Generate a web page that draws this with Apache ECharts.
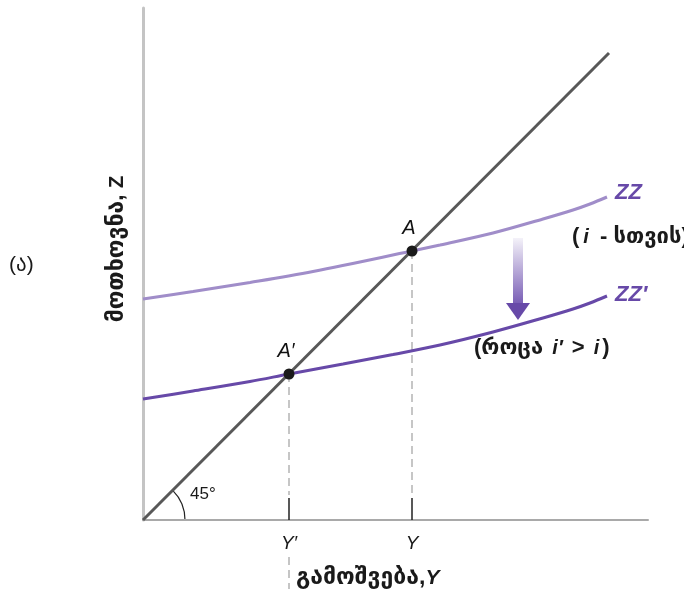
<!DOCTYPE html>
<html>
<head>
<meta charset="utf-8">
<script src="https://cdn.jsdelivr.net/npm/echarts@6/dist/echarts.min.js"></script>
<style>
  html, body { margin: 0; padding: 0; background: #fff; }
  #chart { width: 684px; height: 589px; }
</style>
</head>
<body>
<div id="chart"></div>
<script>
// Output Y on the horizontal axis, demand Z on the vertical axis (plot units)
const diagonalX = [0, 466];
const diagonalY = [0, 467];

// Demand curve ZZ (for interest rate i)
const zzX = [0, 50, 107, 170, 269, 297, 350, 400, 430, 447, 464];
const zzY = [221, 228.5, 237.5, 248.5, 269, 275, 287, 301, 310, 316, 323];

// Demand curve ZZ' (for the higher rate i')
const zzPrimeX = [0, 50, 107, 146, 200, 250, 297, 350, 400, 430, 447, 464];
const zzPrimeY = [121, 129, 138.5, 146, 156, 165.5, 175, 188, 202, 211, 217, 224];

// Equilibrium points
const pointA = [269, 269];
const pointAPrime = [146, 146];

// Ticks on the output axis
const xTickValues = [146, 269];
const xTickLabels = ['Y′', 'Y'];

const latinFamily = "'Liberation Sans', 'DejaVu Sans', sans-serif";
const purpleLight = '#a08dc9';
const purpleDark = '#6749a8';
const ink = '#1a1a1a';

const pairs = (xs, ys) => xs.map((x, i) => [x, ys[i]]);
const font = (spec) => spec + ' ' + latinFamily;

const chart = echarts.init(document.getElementById('chart'), null, { renderer: 'canvas' });

chart.setOption({
  animation: false,
  backgroundColor: '#fff',
  grid: { left: 143, right: 36, top: 8, bottom: 69, containLabel: false },
  xAxis: {
    type: 'value', min: 0, max: 505,
    splitLine: { show: false },
    axisLine: { show: true, lineStyle: { color: '#a9a9a9', width: 2 } },
    axisTick: {
      show: true, inside: true, length: 22,
      customValues: xTickValues,
      lineStyle: { color: '#222', width: 1.5 }
    },
    axisLabel: {
      show: true, margin: 14,
      customValues: xTickValues,
      formatter: v => xTickLabels[xTickValues.indexOf(v)] || '',
      color: ink, fontSize: 19, fontStyle: 'italic', fontFamily: latinFamily
    }
  },
  yAxis: {
    type: 'value', min: 0, max: 512,
    splitLine: { show: false },
    axisLine: { show: true, lineStyle: { color: '#c4c4c4', width: 3 } },
    axisTick: { show: false },
    axisLabel: { show: false }
  },
  series: [
    {
      type: 'line', data: pairs(zzX, zzY), smooth: 0.35, symbol: 'none',
      lineStyle: { color: purpleLight, width: 3 }, z: 3
    },
    {
      type: 'line', data: pairs(zzPrimeX, zzPrimeY), smooth: 0.35, symbol: 'none',
      lineStyle: { color: purpleDark, width: 3 }, z: 3
    },
    {
      type: 'line', data: pairs(diagonalX, diagonalY), symbol: 'none',
      lineStyle: { color: '#585858', width: 3 }, z: 4
    },
    // dashed drop lines from the equilibria to the axis
    {
      type: 'line', data: [[pointA[0], pointA[1]], [pointA[0], 25]], symbol: 'none',
      lineStyle: { color: '#b3b3b3', width: 1.5, type: [8, 5] }, z: 2
    },
    {
      type: 'line', data: [[pointAPrime[0], pointAPrime[1]], [pointAPrime[0], 25]], symbol: 'none',
      lineStyle: { color: '#b3b3b3', width: 1.5, type: [8, 5] }, z: 2
    },
    {
      type: 'line', data: [[pointAPrime[0], -37], [pointAPrime[0], -72]], symbol: 'none', clip: false,
      lineStyle: { color: '#b3b3b3', width: 1.5, type: [8, 5] }, z: 2
    },
    {
      type: 'scatter', symbolSize: 11, z: 6,
      itemStyle: { color: '#1a1a1a', opacity: 1 },
      data: [
        { value: pointA, name: 'A' },
        { value: pointAPrime, name: 'A′' }
      ],
      label: {
        show: true, position: 'top', distance: 7,
        formatter: p => p.name,
        color: '#111', fontSize: 20, fontStyle: 'italic', fontFamily: latinFamily,
        offset: [-3, 0]
      },
      emphasis: { disabled: true }
    }
  ]
});

const px = (x, y) => chart.convertToPixel({ gridIndex: 0 }, [x, y]);

const origin = px(0, 0);
const arrowTop = px(375, 282);
const arrowNeck = px(375, 217);
const arrowTip = px(375, 200);
const zzEnd = px(zzX[zzX.length - 1], zzY[zzY.length - 1]);
const zzPrimeEnd = px(zzPrimeX[zzPrimeX.length - 1], zzPrimeY[zzPrimeY.length - 1]);

const geo = { fill: ink, font: font('bold 22px') };
const ital = { fill: ink, font: font('italic bold 20px') };

chart.setOption({
  graphic: [
    // 45-degree angle marker
    {
      type: 'arc', silent: true,
      shape: { cx: origin[0], cy: origin[1], r: 42, startAngle: -Math.PI / 4, endAngle: 0, clockwise: true },
      style: { stroke: '#222', lineWidth: 1.2, fill: null }
    },
    {
      type: 'text', x: origin[0] + 47, y: origin[1] - 26,
      style: { text: '45°', fill: ink, font: font('17px'), verticalAlign: 'middle' }
    },
    // shift arrow from ZZ down to ZZ'
    {
      type: 'rect',
      shape: { x: arrowTop[0] - 5, y: arrowTop[1], width: 10, height: arrowNeck[1] - arrowTop[1] },
      style: {
        fill: new echarts.graphic.LinearGradient(0, 0, 0, 1, [
          { offset: 0, color: '#f4f2f9' },
          { offset: 1, color: '#7a5fb6' }
        ])
      }
    },
    {
      type: 'polygon',
      shape: { points: [[arrowNeck[0] - 12, arrowNeck[1]], [arrowNeck[0] + 12, arrowNeck[1]], [arrowTip[0], arrowTip[1]]] },
      style: { fill: purpleDark }
    },
    // curve labels
    {
      type: 'text', x: zzEnd[0] + 8, y: zzEnd[1] - 4,
      style: { text: 'ZZ', fill: purpleDark, font: font('italic bold 22px'), verticalAlign: 'middle' }
    },
    {
      type: 'text', x: zzEnd[0] - 35, y: zzEnd[1] + 40,
      style: {
        text: '{p|(}{i|i}{p| - სთვის)}', verticalAlign: 'middle',
        rich: { p: geo, i: Object.assign({}, ital, { padding: [0, 5, 0, 4] }) }
      }
    },
    {
      type: 'text', x: zzPrimeEnd[0] + 8, y: zzPrimeEnd[1] - 1,
      style: { text: 'ZZ′', fill: purpleDark, font: font('italic bold 22px'), verticalAlign: 'middle' }
    },
    {
      type: 'text', x: 474, y: 348,
      style: {
        text: '{p|(როცა }{i|i′}{p| > }{i|i}{p|)}', verticalAlign: 'middle',
        rich: { p: geo, i: Object.assign({}, ital, { padding: [0, 3, 0, 3] }) }
      }
    },
    // axis titles
    {
      type: 'text', x: 296, y: 578,
      style: {
        text: '{p|გამოშვება,}{i|Y}', verticalAlign: 'middle',
        rich: { p: { fill: ink, font: font('bold 23px') }, i: { fill: ink, font: font('italic bold 21px') } }
      }
    },
    {
      type: 'text', x: 117, y: 249, rotation: Math.PI / 2,
      style: {
        text: '{p|მოთხოვნა, }{i|Z}', align: 'center', verticalAlign: 'middle',
        rich: { p: { fill: ink, font: font('bold 23px') }, i: { fill: ink, font: font('bold 20px') } }
      }
    },
    {
      type: 'text', x: 9, y: 265,
      style: { text: '(ა)', fill: ink, font: font('21px'), verticalAlign: 'middle' }
    }
  ]
});
</script>
</body>
</html>
